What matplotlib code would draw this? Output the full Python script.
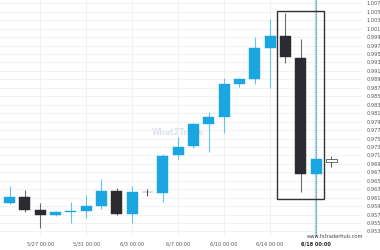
import numpy as np
import matplotlib
matplotlib.use('Agg')
import matplotlib.pyplot as plt
from matplotlib.patches import Rectangle

# daily candles (oldest first)
opens = [0.9598, 0.9611, 0.9581, 0.9568, 0.9575, 0.9578, 0.9591, 0.9626, 0.9571, 0.9623, 0.9620,
         0.9710, 0.9732, 0.9785, 0.9800, 0.9879, 0.9890, 0.9965, 0.9993, 0.9941, 0.9665]
closes = [0.9611, 0.9581, 0.9568, 0.9575, 0.9579, 0.9591, 0.9626, 0.9571, 0.9623, 0.9623, 0.9709,
          0.9731, 0.9784, 0.9802, 0.9878, 0.9890, 0.9964, 0.9993, 0.9942, 0.9665, 0.9702]
highs = [0.9638, 0.9628, 0.9597, 0.9578, 0.9600, 0.9616, 0.9654, 0.9632, 0.9638, 0.9631, 0.9713,
         0.9754, 0.9786, 0.9813, 0.9894, 0.9894, 0.9991, 1.0033, 1.0048, 0.9986, 0.9702]
lows = [0.9595, 0.9577, 0.9539, 0.9567, 0.9549, 0.9563, 0.9583, 0.9569, 0.9551, 0.9614, 0.9600,
        0.9701, 0.9727, 0.9719, 0.9762, 0.9871, 0.9878, 0.9870, 0.9928, 0.9624, 0.9665]

xtick_idx = [2, 5, 8, 11, 14, 17, 20]
xtick_labels = ['5/27 00:00', '5/31 00:00', '6/3 00:00', '6/7 00:00', '6/10 00:00', '6/14 00:00', '6/18 00:00']
yticks = np.round(np.arange(0.953, 1.0075, 0.002), 3)

# projected marker after last candle
proj_idx = 21
proj_open, proj_close, proj_high, proj_low = 0.9694, 0.9701, 0.9709, 0.9683

# highlight box
box_x0, box_x1 = 17.47, 20.53
box_y0, box_y1 = 0.96075, 1.00525

blue = '#1aa7e1'
blue_wick = '#62c3ee'
dark = '#2b2b31'

fig = plt.figure(figsize=(3.8, 2.5), dpi=100)
ax = fig.add_axes([0.0, 0.052, 0.9526, 0.948])

ax.set_xlim(-0.62, 22.99)
ax.set_ylim(0.95169, 1.00778)

for s in ax.spines.values():
    s.set_visible(False)

ax.set_yticks(yticks)
ax.set_xticks(xtick_idx)
ax.grid(True, color='#f0f0f0', lw=0.6)
ax.set_axisbelow(True)
ax.yaxis.tick_right()
ax.tick_params(axis='y', length=0, pad=3, labelsize=3.6, labelcolor='#555555')
ax.tick_params(axis='x', length=0, pad=3, labelsize=3.6, labelcolor='#555555')
ax.set_yticklabels(['%.3f' % v for v in yticks])
ax.set_xticklabels(xtick_labels)
lbls = ax.get_xticklabels()
lbls[-1].set_fontweight('bold')
lbls[-1].set_color('#222222')

# current candle marker line
ax.axvline(20, color='#a8dcf3', lw=1.6, zorder=1)
ax.axvline(20, color='#8a8a8a', lw=0.8, ls=(0, (1, 1)), zorder=1.5)

w = 0.72
for i in range(len(opens)):
    o, c, h, l = opens[i], closes[i], highs[i], lows[i]
    if c > o:
        col, wcol = blue, blue_wick
    elif c < o:
        col, wcol = dark, '#6a6a70'
    else:
        col, wcol = '#555555', '#555555'
    ax.vlines(i, l, h, color=wcol, lw=0.8, zorder=2)
    hgt = max(abs(c - o), 0.00006)
    ax.bar(i, hgt, bottom=min(o, c), width=w, color=col, edgecolor=col, lw=0.3, zorder=3)

# projection marker
ax.vlines(proj_idx, proj_low, proj_high, color='#555555', lw=0.7, zorder=2)
ax.bar(proj_idx, proj_close - proj_open, bottom=proj_open, width=w,
       color='white', edgecolor='#555555', lw=0.6, zorder=3)

ax.add_patch(Rectangle((box_x0, box_y0), box_x1 - box_x0, box_y1 - box_y0,
                       fill=False, edgecolor='#333333', lw=1.0, zorder=4))

ax.text(11.0, 0.9765, 'What2Trade', fontsize=5.5, fontweight='bold', color='#dde3ea',
        ha='center', va='center', zorder=0.5)

fig.text(363 / 380, 1 - 236 / 250, 'www.fxtraderhub.com', fontsize=3.7, color='#444444',
         ha='right', va='center')

fig.savefig('out.png', dpi=100)
